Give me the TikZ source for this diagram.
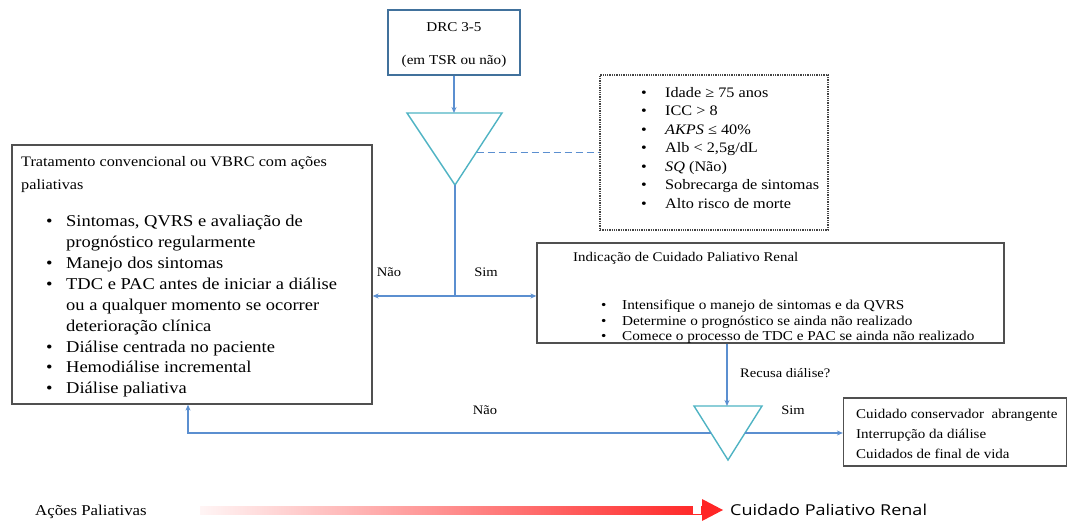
\documentclass[tikz,border=0pt]{standalone}
\usepackage{fontspec}
\setmainfont[FakeStretch=1.12]{Liberation Serif}
\newfontfamily\sansrenal[FakeStretch=1.2]{Open Sans}
\usetikzlibrary{arrows.meta,calc,positioning}

\definecolor{boxblue}{HTML}{41719C}
\definecolor{lineblue}{HTML}{5B8FD0}
\definecolor{triteal}{HTML}{4FB3C3}
\definecolor{boxgray}{HTML}{505050}
\definecolor{dotgray}{HTML}{444444}

% bullet with fixed indent
\newcommand{\itm}[1][20pt]{\makebox[#1][l]{\textbullet}}

\tikzset{
  bluebox/.style={draw=boxblue, line width=2pt, minimum width=132pt, minimum height=65pt},
  graybox/.style={draw=boxgray, line width=1.3pt},
  dotbox/.style={draw=dotgray, densely dotted, line width=1.3pt},
  tri/.style={draw=triteal, line width=1.4pt},
  wire/.style={draw=lineblue, line width=1.4pt},
  flow/.style={wire, -{Stealth[length=6pt,width=5pt]}},
  txt/.style={inner sep=0pt, align=left, anchor=north west},
  lbl/.style={inner sep=0pt, font=\fontsize{13}{15}\selectfont},
}

\begin{document}
\begin{tikzpicture}[x=1pt,y=-1pt]
  \useasboundingbox (0,0) rectangle (1069,521);

  % top box and first decision
  \node[bluebox] (drc) at (454,42.5) {};
  \node[inner sep=0pt, align=center, font=\fontsize{13.5}{16}\selectfont] (drctxt) at (454,45) {DRC 3-5\\[17pt](em TSR ou não)};
  \coordinate (t1l) at (407,113);
  \coordinate (t1r) at (502,113);
  \coordinate (t1b) at (455,185);
  \draw[tri] (t1l) -- (t1r) -- (t1b) -- cycle;
  \draw[flow] (drc.south) -- (drc.south |- t1l);

  % criteria
  \node[dotbox, minimum width=228pt, minimum height=155pt] (crit) at (714,152.5) {};
  \node[txt, font=\fontsize{14.5}{18.5}\selectfont] (critlist) at (641,87) {%
    \itm[24pt]Idade ≥ 75 anos\\
    \itm[24pt]ICC > 8\\
    \itm[24pt]\textit{AKPS} ≤ 40\%\\
    \itm[24pt]Alb < 2,5g/dL\\
    \itm[24pt]\textit{SQ} (Não)\\
    \itm[24pt]Sobrecarga de sintomas\\
    \itm[24pt]Alto risco de morte};
  \coordinate (dashfrom) at ($(t1r)!0.54!(t1b)$);
  \draw[wire, dash pattern=on 7pt off 4pt] (dashfrom |- crit.west) -- (crit.west);

  % left box
  \node[graybox, minimum width=360pt, minimum height=259pt] (trat) at (192,274.5) {};
  \node[txt, font=\fontsize{14.5}{23}\selectfont] (trattitle) at (21,156) {Tratamento convencional ou VBRC com ações\\paliativas};
  \node[txt, font=\fontsize{16.5}{20.9}\selectfont] (tratlist) at (46,215) {%
    \itm Sintomas, QVRS e avaliação de\\
    \hspace*{20pt}prognóstico regularmente\\
    \itm Manejo dos sintomas\\
    \itm TDC e PAC antes de iniciar a diálise\\
    \hspace*{20pt}ou a qualquer momento se ocorrer\\
    \hspace*{20pt}deterioração clínica\\
    \itm Diálise centrada no paciente\\
    \itm Hemodiálise incremental\\
    \itm Diálise paliativa};

  % right box
  \node[graybox, minimum width=467pt, minimum height=100pt] (ind) at (770.5,293) {};
  \node[txt, font=\fontsize{13.3}{15}\selectfont] (indtitle) at (573,252) {Indicação de Cuidado Paliativo Renal};
  \node[txt, font=\fontsize{13.6}{15.3}\selectfont] (indlist) at (601,300) {%
    \itm[21pt]Intensifique o manejo de sintomas e da QVRS\\
    \itm[21pt]Determine o prognóstico se ainda não realizado\\
    \itm[21pt]Comece o processo de TDC e PAC se ainda não realizado};

  % split after first decision
  \coordinate (split) at (455,296);
  \draw[wire] (t1b) -- (split);
  \draw[flow] (split) -- (split -| trat.east);
  \draw[flow] (split) -- (split -| ind.west);
  \node[lbl] (nao1) at (389,272) {Não};
  \node[lbl] (sim1) at (486,272) {Sim};

  % second decision
  \coordinate (t2l) at (694,406);
  \coordinate (t2r) at (762,406);
  \coordinate (t2b) at (728,460);
  \draw[tri] (t2l) -- (t2r) -- (t2b) -- cycle;
  \coordinate (t2in) at (727,406);
  \draw[flow] (ind.south -| t2in) -- (t2in);
  \node[lbl, anchor=west] (recusa) at (740,373) {Recusa diálise?};

  % end box
  \node[graybox, minimum width=223pt, minimum height=68pt] (fim) at (955,432) {};
  \node[txt, font=\fontsize{13.4}{20}\selectfont] (fimlist) at (856,409) {%
    Cuidado conservador\ \ abrangente\\
    Interrupção da diálise\\
    Cuidados de final de vida};

  \coordinate (t2rs) at ($(t2r)!0.5!(t2b)$);
  \coordinate (t2ls) at ($(t2l)!0.5!(t2b)$);
  \draw[flow] (t2rs) -- (t2rs -| fim.west);
  \node[lbl] (sim2) at (793,410) {Sim};
  \coordinate (back) at (188,433);
  \draw[flow] (t2ls) -- (back) -- (back |- trat.south);
  \node[lbl] (nao2) at (485,410) {Não};

  % bottom scale
  \node[anchor=west, inner sep=0pt, font=\fontsize{15}{17}\selectfont] (acoes) at (35,512) {Ações Paliativas};
  \node[anchor=west, inner sep=0pt, font=\sansrenal\fontsize{15}{17}\selectfont] (cpr) at (730,510) {Cuidado Paliativo Renal};
  \shade[left color=red!4, right color=red!85] (200,506) rectangle (702,514);
  \fill[red!85] (702,499) -- (723,510) -- (702,521) -- cycle;
  \fill[white] (693,506) rectangle (701,514);
\end{tikzpicture}
\end{document}
